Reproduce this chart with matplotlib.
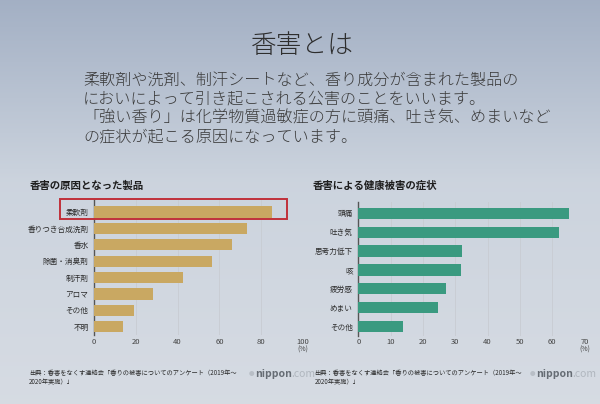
import matplotlib
matplotlib.use("Agg")
import matplotlib.pyplot as plt
import numpy as np
from matplotlib.patches import Rectangle

plt.rcParams['font.family'] = ['Noto Sans CJK JP', 'DejaVu Sans']

title = "香害とは"
paragraph = [
    "柔軟剤や洗剤、制汗シートなど、香り成分が含まれた製品の",
    "においによって引き起こされる公害のことをいいます。",
    "「強い香り」は化学物質過敏症の方に頭痛、吐き気、めまいなど",
    "の症状が起こる原因になっています。",
]

left_title = "香害の原因となった製品"
left_cats = ["柔軟剤", "香りつき合成洗剤", "香水", "除菌・消臭剤", "制汗剤", "アロマ", "その他", "不明"]
left_vals = [85.1, 73.1, 66.0, 56.6, 42.5, 28.0, 18.9, 13.8]
left_ticks = [0, 20, 40, 60, 80, 100]

right_title = "香害による健康被害の症状"
right_cats = ["頭痛", "吐き気", "思考力低下", "咳", "疲労感", "めまい", "その他"]
right_vals = [65.2, 62.1, 32.1, 31.7, 27.1, 24.6, 13.9]
right_ticks = [0, 10, 20, 30, 40, 50, 60, 70]

source = "出典：香害をなくす連絡会「香りの被害についてのアンケート（2019年～\n2020年実施）」"
brand = "nippon"
brand2 = ".com"

W, H = 600, 404
fig = plt.figure(figsize=(6, 4.04), dpi=100)

# background gradient (photo of a poster)
bg = fig.add_axes([0, 0, 1, 1], zorder=-10)
grad = np.linspace(0, 1, 256)[:, None]
c_top = np.array([0.64, 0.69, 0.77])
c_mid = np.array([0.80, 0.83, 0.87])
c_bot = np.array([0.84, 0.86, 0.89])
t = grad[:, :, None]
img = np.where(t < 0.45, c_top + (c_mid - c_top) * (t / 0.45),
               c_mid + (c_bot - c_mid) * ((t - 0.45) / 0.55))
img = np.repeat(img, 4, axis=1)
bg.imshow(img, aspect='auto', extent=[0, 1, 0, 1], origin='upper')
bg.set_axis_off()

def fx(px):
    return px / W

def fy(py):
    return 1 - py / H

txt = "#2b2b2b"
fig.text(fx(302), fy(46), title, ha='center', va='center', fontsize=18.5, color="#2e2e2e", weight='light')
for i, line in enumerate(paragraph):
    fig.text(fx(83), fy(80 + i * 19), line, ha='left', va='center', fontsize=11.6, color="#3a3a3a",
             weight='light')

def draw_chart(left_px, right_px, top_px, bottom_px, cats, vals, ticks, color, ylim_top, ylim_bot, bar_h):
    ax = fig.add_axes([fx(left_px), fy(bottom_px), (right_px - left_px) / W, (bottom_px - top_px) / H])
    ax.set_facecolor('none')
    y = np.arange(len(cats))
    ax.barh(y, vals, height=bar_h, color=color, zorder=3)
    ax.set_xlim(0, ticks[-1])
    ax.set_ylim(ylim_bot, ylim_top)
    ax.set_yticks(y)
    ax.set_yticklabels(cats, fontsize=5.5, color=txt)
    ax.set_xticks(ticks)
    ax.set_xticklabels([str(v) for v in ticks], fontsize=5.5, color="#444444")
    ax.tick_params(length=0, pad=2)
    ax.tick_params(axis='y', pad=4)
    for s in ['top', 'right', 'bottom']:
        ax.spines[s].set_visible(False)
    ax.spines['left'].set_color('#555555')
    ax.spines['left'].set_linewidth(1.0)
    ax.grid(axis='x', color='#c8ccd2', linewidth=0.6, zorder=0)
    ax.set_axisbelow(True)
    return ax

axL = draw_chart(94, 303, 199.7, 335, left_cats, left_vals, left_ticks, "#c9a862", -0.75, 7.5, 0.68)
axR = draw_chart(358.3, 584.6, 201.7, 335.6, right_cats, right_vals, right_ticks, "#3a9a80", -0.62, 6.48, 0.6)

fig.text(fx(303), fy(350), "(%)", ha='center', va='center', fontsize=5, color="#444444")
fig.text(fx(584.6), fy(350), "(%)", ha='center', va='center', fontsize=5, color="#444444")

fig.text(fx(30), fy(186), left_title, ha='left', va='center', fontsize=7.5, color="#1e1e1e", weight='bold')
fig.text(fx(313), fy(186), right_title, ha='left', va='center', fontsize=7.5, color="#1e1e1e", weight='bold')

# highlight box around the top category
fig.add_artist(Rectangle((fx(60), fy(219)), (287 - 60) / W, (219 - 199) / H,
                         transform=fig.transFigure, fill=False, edgecolor="#c0303a", linewidth=1.4))

for sx, bx in [(29, 249), (314.5, 530)]:
    fig.text(fx(sx), fy(378), source, ha='left', va='center', fontsize=4.5, color=txt, linespacing=1.2)
    fig.text(fx(bx), fy(374), "●", ha='left', va='center', fontsize=4, color="#b8bec6")
    fig.text(fx(bx + 6), fy(374), brand, ha='left', va='center', fontsize=7.5, color="#666c74", weight='bold')
    fig.text(fx(bx + 42), fy(374), brand2, ha='left', va='center', fontsize=7.5, color="#b0b6be")

fig.savefig("out.png", dpi=100)
